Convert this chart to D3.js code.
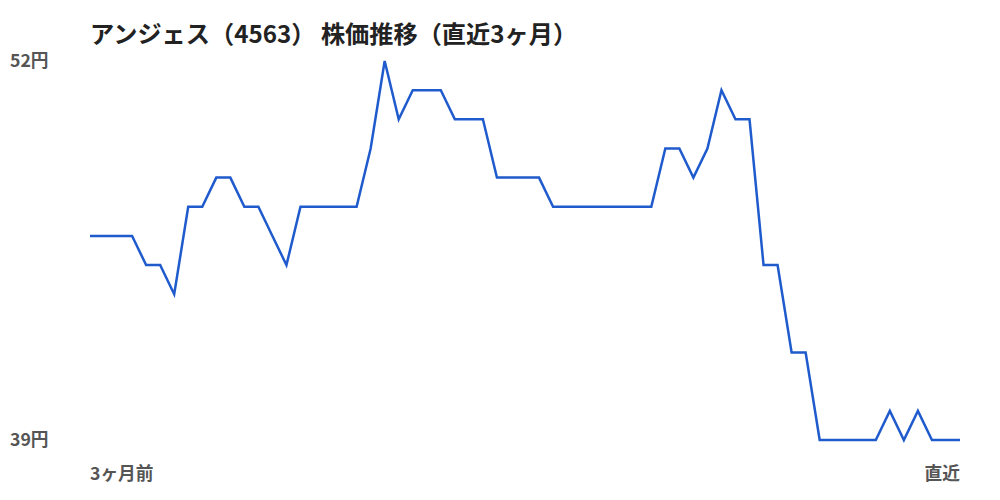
<!DOCTYPE html>
<html><head><meta charset="utf-8">
<script src="https://cdn.jsdelivr.net/npm/d3@7"></script>
<style>body{margin:0;background:#fff}svg{display:block}text{font-family:"Noto Sans CJK JP","Noto Sans",sans-serif}</style>
</head><body>
<svg id="c" width="1000" height="500"></svg>
<script>
const title = "アンジェス（4563） 株価推移（直近3ヶ月）";
const prices = [46,46,46,46,45,45,44,47,47,48,48,47,47,46,45,47,47,47,47,47,49,52,50,51,51,51,50,50,50,48,48,48,48,47,47,47,47,47,47,47,47,49,49,48,49,51,50,50,45,45,42,42,39,39,39,39,39,40,39,40,39,39,39];
const yTickValues = [39,52];
const yTickLabels = ["39円","52円"];
const xLabels = ["3ヶ月前","直近"];

const svg = d3.select("#c");
const x = d3.scaleLinear().domain([0, prices.length-1]).range([90, 960]);
const y = d3.scaleLinear().domain([39, 52]).range([440, 61]);

svg.append("text").attr("x", 90).attr("y", 43)
  .attr("font-size", 24.2).attr("font-weight", 700).attr("fill", "#222").text(title);

yTickValues.forEach((v,i)=>{
  svg.append("text").attr("x", 10).attr("y", y(v)).attr("dy","0.36em")
    .attr("font-size", 17.7).attr("font-weight", 600).attr("fill", "#555").text(yTickLabels[i]);
});

svg.append("text").attr("x", x(0)).attr("y", 480).attr("font-size", 17.7).attr("font-weight", 600)
  .attr("fill", "#555").text(xLabels[0]);
svg.append("text").attr("x", x(prices.length-1)).attr("y", 480).attr("text-anchor","end").attr("font-size", 17.7).attr("font-weight", 600)
  .attr("fill", "#555").text(xLabels[1]);

const line = d3.line().x((d,i)=>x(i)).y(d=>y(d));
svg.append("path").datum(prices).attr("d", line).attr("fill","none")
  .attr("stroke","#1f5bcc").attr("stroke-width",2.5).attr("stroke-linejoin","miter");
</script>
</body></html>
